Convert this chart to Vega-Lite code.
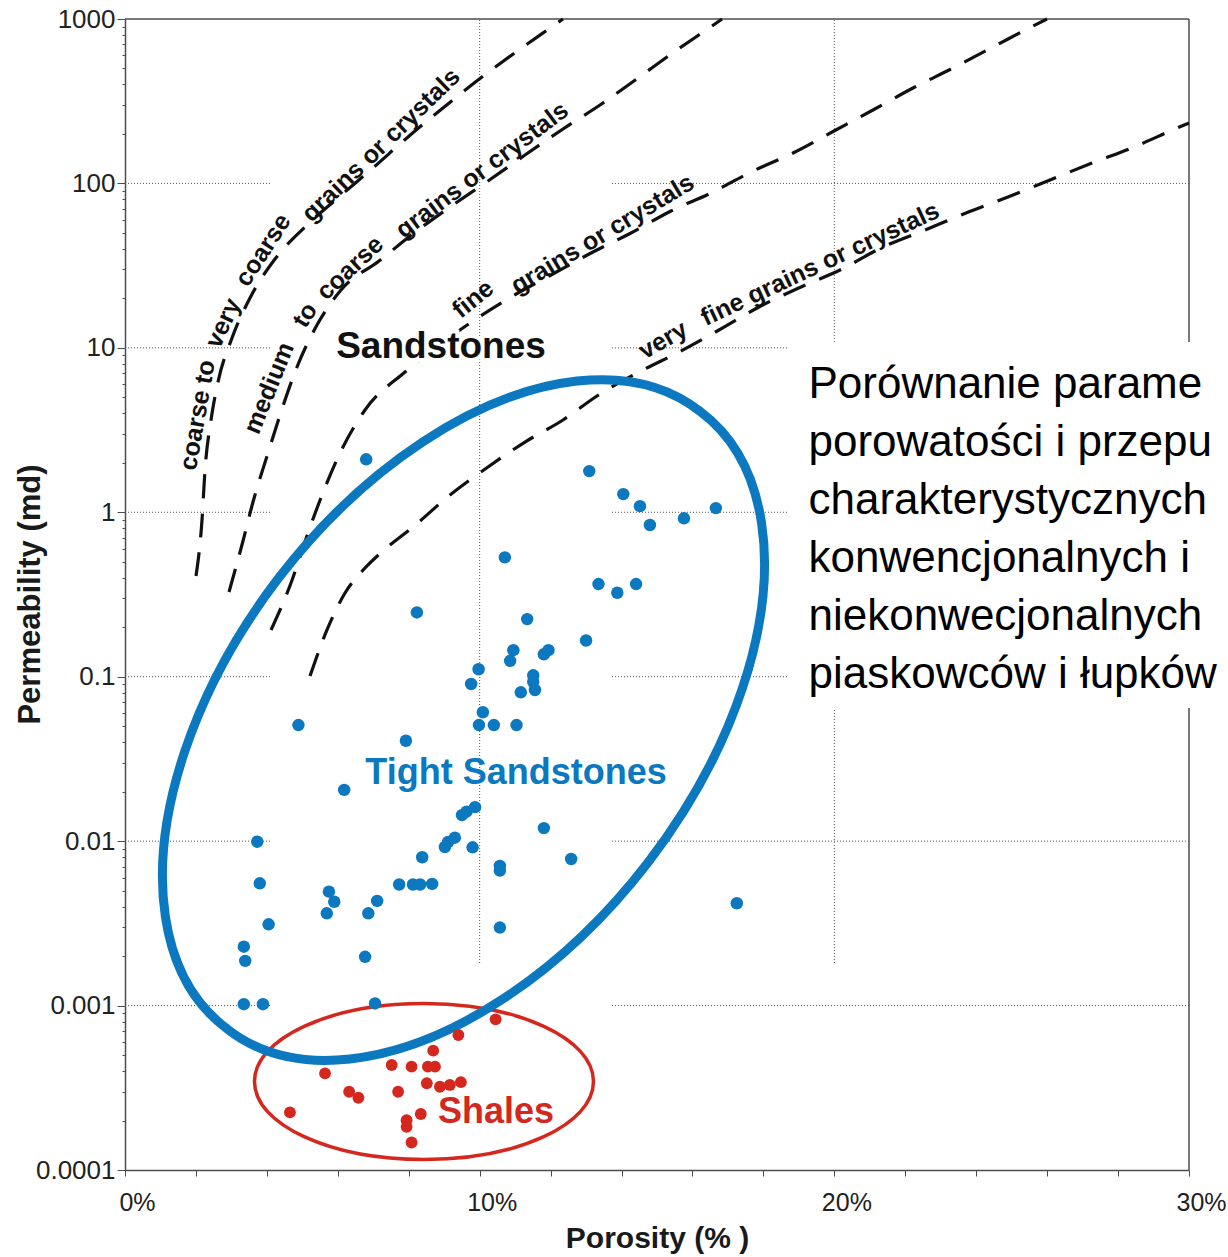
{
  "$schema": "https://vega.github.io/schema/vega-lite/v6.json",
  "width": 1064,
  "height": 1151,
  "autosize": {"type": "none"},
  "padding": {"left": 125, "top": 19, "right": 39, "bottom": 87},
  "background": "white",
  "config": {
    "view": {"stroke": null},
    "axis": {"grid": false, "domainColor": "#4d4d4d", "tickColor": "#4d4d4d", "labelColor": "#222222", "titleColor": "#1a1a1a", "labelFont": "Liberation Sans", "titleFont": "Liberation Sans", "domainWidth": 1.5, "tickWidth": 1},
    "text": {"font": "Liberation Sans"}
  },
  "datasets": {
    "grid": [
      {"por": 0, "por2": 4.088, "k": 100, "k2": 100},
      {"por": 13.731, "por2": 30, "k": 100, "k2": 100},
      {"por": 0, "por2": 4.088, "k": 10, "k2": 10},
      {"por": 13.731, "por2": 18.665, "k": 10, "k2": 10},
      {"por": 0, "por2": 4.088, "k": 1, "k2": 1},
      {"por": 13.731, "por2": 18.665, "k": 1, "k2": 1},
      {"por": 0, "por2": 4.088, "k": 0.1, "k2": 0.1},
      {"por": 13.731, "por2": 18.665, "k": 0.1, "k2": 0.1},
      {"por": 0, "por2": 4.088, "k": 0.01, "k2": 0.01},
      {"por": 13.731, "por2": 30, "k": 0.01, "k2": 0.01},
      {"por": 0, "por2": 4.088, "k": 0.001, "k2": 0.001},
      {"por": 13.731, "por2": 30, "k": 0.001, "k2": 0.001},
      {"por": 10, "por2": 10, "k": 0.001815, "k2": 1000},
      {"por": 20, "por2": 20, "k": 0.001815, "k2": 0.0645},
      {"por": 20, "por2": 20, "k": 10.85, "k2": 1000}
    ],
    "frame": [
      {"por": 0, "por2": 30, "k": 1000, "k2": 1000},
      {"por": 30, "por2": 30, "k": 0.0001, "k2": 0.0645},
      {"por": 30, "por2": 30, "k": 10.85, "k2": 1000}
    ],
    "curves": [
      {"curve": "c1", "por": 2.002, "k": 0.410}, {"curve": "c1", "por": 2.171, "k": 0.897}, {"curve": "c1", "por": 2.256, "k": 1.808}, {"curve": "c1", "por": 2.425, "k": 3.64}, {"curve": "c1", "por": 2.622, "k": 6.2}, {"curve": "c1", "por": 3.017, "k": 11.48}, {"curve": "c1", "por": 3.524, "k": 20.1}, {"curve": "c1", "por": 4.229, "k": 34.7}, {"curve": "c1", "por": 5.103, "k": 55.08}, {"curve": "c1", "por": 6.034, "k": 82.68}, {"curve": "c1", "por": 7.021, "k": 125.9}, {"curve": "c1", "por": 7.979, "k": 191.6}, {"curve": "c1", "por": 8.966, "k": 287.5}, {"curve": "c1", "por": 9.953, "k": 425.6}, {"curve": "c1", "por": 11.024, "k": 629.9}, {"curve": "c1", "por": 12.068, "k": 906.7}, {"curve": "c1", "por": 12.349, "k": 1000},
      {"curve": "c2", "por": 2.932, "k": 0.3275}, {"curve": "c2", "por": 3.327, "k": 0.669}, {"curve": "c2", "por": 3.609, "k": 1.155}, {"curve": "c2", "por": 4.032, "k": 2.293}, {"curve": "c2", "por": 4.398, "k": 4.073}, {"curve": "c2", "por": 4.85, "k": 7.646}, {"curve": "c2", "por": 5.413, "k": 13.77}, {"curve": "c2", "por": 6.09, "k": 22.48}, {"curve": "c2", "por": 7.162, "k": 33.74}, {"curve": "c2", "por": 8.148, "k": 49.94}, {"curve": "c2", "por": 9.163, "k": 71.87}, {"curve": "c2", "por": 10.235, "k": 103.4}, {"curve": "c2", "por": 11.278, "k": 148.9}, {"curve": "c2", "por": 12.349, "k": 214.3}, {"curve": "c2", "por": 13.393, "k": 299.8}, {"curve": "c2", "por": 14.464, "k": 437.8}, {"curve": "c2", "por": 15.479, "k": 629.9}, {"curve": "c2", "por": 16.551, "k": 906.7}, {"curve": "c2", "por": 16.833, "k": 1000},
      {"curve": "c3", "por": 4.117, "k": 0.1924}, {"curve": "c3", "por": 4.68, "k": 0.3715}, {"curve": "c3", "por": 5.16, "k": 0.7482}, {"curve": "c3", "por": 5.611, "k": 1.366}, {"curve": "c3", "por": 6.147, "k": 2.495}, {"curve": "c3", "por": 6.767, "k": 4.188}, {"curve": "c3", "por": 7.895, "k": 7.131}, {"curve": "c3", "por": 9.727, "k": 14.16}, {"curve": "c3", "por": 10.883, "k": 20.38}, {"curve": "c3", "por": 12.011, "k": 27.73}, {"curve": "c3", "por": 13.139, "k": 37.74}, {"curve": "c3", "por": 14.267, "k": 49.94}, {"curve": "c3", "por": 15.395, "k": 67.96}, {"curve": "c3", "por": 16.523, "k": 87.45}, {"curve": "c3", "por": 17.65, "k": 117.3}, {"curve": "c3", "por": 18.834, "k": 153.1}, {"curve": "c3", "por": 19.99, "k": 208.4}, {"curve": "c3", "por": 21.09, "k": 279.6}, {"curve": "c3", "por": 22.218, "k": 380.5}, {"curve": "c3", "por": 23.346, "k": 503.4}, {"curve": "c3", "por": 24.473, "k": 675.3}, {"curve": "c3", "por": 25.601, "k": 906.7}, {"curve": "c3", "por": 25.996, "k": 1000},
      {"curve": "c4", "por": 5.216, "k": 0.101}, {"curve": "c4", "por": 5.695, "k": 0.1924}, {"curve": "c4", "por": 6.203, "k": 0.3229}, {"curve": "c4", "por": 6.767, "k": 0.4583}, {"curve": "c4", "por": 7.303, "k": 0.5897}, {"curve": "c4", "por": 8.12, "k": 0.8138}, {"curve": "c4", "por": 9.163, "k": 1.274}, {"curve": "c4", "por": 10.235, "k": 1.886}, {"curve": "c4", "por": 11.278, "k": 2.675}, {"curve": "c4", "por": 12.349, "k": 3.64}, {"curve": "c4", "por": 13.308, "k": 5.096}, {"curve": "c4", "por": 14.605, "k": 7.334}, {"curve": "c4", "por": 15.62, "k": 9.436}, {"curve": "c4", "por": 16.748, "k": 12.84}, {"curve": "c4", "por": 17.876, "k": 17.72}, {"curve": "c4", "por": 19.06, "k": 23.45}, {"curve": "c4", "por": 20.16, "k": 29.75}, {"curve": "c4", "por": 21.372, "k": 41.05}, {"curve": "c4", "por": 22.556, "k": 52.08}, {"curve": "c4", "por": 23.712, "k": 66.08}, {"curve": "c4", "por": 24.896, "k": 82.68}, {"curve": "c4", "por": 26.081, "k": 104.9}, {"curve": "c4", "por": 27.265, "k": 133.1}, {"curve": "c4", "por": 28.449, "k": 166.5}, {"curve": "c4", "por": 29.661, "k": 217.3}, {"curve": "c4", "por": 30, "k": 233.1}
    ],
    "sand": [
      {"por": 6.80, "k": 2.10}, {"por": 4.89, "k": 0.0508}, {"por": 6.18, "k": 0.0205}, {"por": 3.73, "k": 0.00992}, {"por": 3.80, "k": 0.00554},
      {"por": 4.05, "k": 0.00312}, {"por": 3.35, "k": 0.00228}, {"por": 3.39, "k": 0.00187}, {"por": 3.35, "k": 0.00102}, {"por": 3.89, "k": 0.00102},
      {"por": 5.75, "k": 0.00493}, {"por": 5.90, "k": 0.00428}, {"por": 5.69, "k": 0.00364}, {"por": 6.86, "k": 0.00364}, {"por": 7.11, "k": 0.00433},
      {"por": 6.77, "k": 0.00198}, {"por": 7.05, "k": 0.00103}, {"por": 7.73, "k": 0.00545}, {"por": 8.12, "k": 0.00545}, {"por": 8.32, "k": 0.00545},
      {"por": 8.66, "k": 0.00549}, {"por": 8.38, "k": 0.00798}, {"por": 9.02, "k": 0.00921}, {"por": 9.11, "k": 0.00988}, {"por": 9.30, "k": 0.0105},
      {"por": 9.50, "k": 0.0144}, {"por": 9.63, "k": 0.0151}, {"por": 9.87, "k": 0.0161}, {"por": 9.80, "k": 0.00917}, {"por": 11.81, "k": 0.0120},
      {"por": 12.58, "k": 0.00779}, {"por": 10.57, "k": 0.00706}, {"por": 10.57, "k": 0.00663}, {"por": 10.57, "k": 0.00298}, {"por": 17.25, "k": 0.00419},
      {"por": 13.09, "k": 1.78}, {"por": 14.05, "k": 1.29}, {"por": 14.52, "k": 1.09}, {"por": 14.80, "k": 0.837}, {"por": 15.76, "k": 0.919},
      {"por": 16.66, "k": 1.06}, {"por": 10.71, "k": 0.532}, {"por": 13.35, "k": 0.366}, {"por": 13.88, "k": 0.324}, {"por": 14.41, "k": 0.366},
      {"por": 8.23, "k": 0.246}, {"por": 11.34, "k": 0.224}, {"por": 13.00, "k": 0.166}, {"por": 10.95, "k": 0.145}, {"por": 10.86, "k": 0.125},
      {"por": 11.81, "k": 0.137}, {"por": 11.94, "k": 0.145}, {"por": 9.97, "k": 0.111}, {"por": 9.76, "k": 0.0903}, {"por": 11.51, "k": 0.102},
      {"por": 11.51, "k": 0.0932}, {"por": 11.56, "k": 0.0830}, {"por": 11.16, "k": 0.0804}, {"por": 10.09, "k": 0.0608}, {"por": 9.98, "k": 0.0508},
      {"por": 10.40, "k": 0.0508}, {"por": 11.04, "k": 0.0508}, {"por": 7.92, "k": 0.0408}
    ],
    "shale": [
      {"por": 4.65, "k": 0.000224}, {"por": 5.64, "k": 0.000387}, {"por": 6.32, "k": 0.000299}, {"por": 6.58, "k": 0.000275}, {"por": 7.52, "k": 0.000435},
      {"por": 7.70, "k": 0.000299}, {"por": 8.08, "k": 0.000425}, {"por": 8.54, "k": 0.000425}, {"por": 8.74, "k": 0.000425}, {"por": 8.69, "k": 0.000532},
      {"por": 9.40, "k": 0.000662}, {"por": 10.45, "k": 0.000825}, {"por": 8.51, "k": 0.000337}, {"por": 8.88, "k": 0.000321}, {"por": 9.16, "k": 0.000329},
      {"por": 9.47, "k": 0.000342}, {"por": 7.94, "k": 0.000201}, {"por": 7.94, "k": 0.000183}, {"por": 8.34, "k": 0.000219}, {"por": 8.08, "k": 0.000147}
    ]
  },
  "resolve": {"axis": {"y": "independent"}},
  "layer": [
    {
      "data": {"name": "grid"},
      "mark": {"type": "rule", "color": "#555555", "strokeWidth": 1, "strokeDash": [1, 2]},
      "encoding": {
        "x": {"field": "por", "type": "quantitative", "scale": {"domain": [0, 30], "nice": false, "zero": false},
          "axis": {"values": [0,1,2,3,4,5,6,7,8,9,10,11,12,13,14,15,16,17,18,19,20,21,22,23,24,25,26,27,28,29,30], "labelExpr": "datum.value % 10 === 0 ? datum.value + '%' : ''", "tickSize": 6, "labelFontSize": 25, "labelPadding": 14, "labelOffset": 12, "labelFlush": false, "labelOverlap": false, "title": "Porosity (% )", "titleFontSize": 30, "titleFontWeight": "bold", "titleBaseline": "alphabetic", "titleY": 77.5}},
        "x2": {"field": "por2"},
        "y": {"field": "k", "type": "quantitative", "scale": {"type": "log", "domain": [0.0001, 1000], "nice": false},
          "axis": {"orient": "left", "values": [0.0001, 0.001, 0.01, 0.1, 1, 10, 100, 1000], "labelExpr": "datum.value >= 1 ? format(datum.value, 'd') : format(datum.value, '.4~f')", "tickSize": 8, "labelFontSize": 26, "labelPadding": 2, "labelFlush": false, "labelOverlap": false, "title": "Permeability (md)", "titleFontSize": 31, "titleFontWeight": "bold", "titleBaseline": "alphabetic", "titleAngle": 270, "titleX": -86, "titleY": 575}},
        "y2": {"field": "k2"}
      }
    },
    {
      "data": {"name": "frame"},
      "mark": {"type": "rule", "color": "#4d4d4d", "strokeWidth": 1.5},
      "encoding": {
        "x": {"field": "por", "type": "quantitative", "scale": {"domain": [0, 30], "nice": false, "zero": false}},
        "x2": {"field": "por2"},
        "y": {"field": "k", "type": "quantitative", "scale": {"type": "log", "domain": [0.0001, 1000], "nice": false},
          "axis": {"orient": "left", "values": [0.0002,0.0003,0.0004,0.0005,0.0006,0.0007,0.0008,0.0009,0.002,0.003,0.004,0.005,0.006,0.007,0.008,0.009,0.02,0.03,0.04,0.05,0.06,0.07,0.08,0.09,0.2,0.3,0.4,0.5,0.6,0.7,0.8,0.9,2,3,4,5,6,7,8,9,20,30,40,50,60,70,80,90,200,300,400,500,600,700,800,900], "tickSize": 3, "labels": false, "domain": false, "title": null}},
        "y2": {"field": "k2"}
      }
    },
    {
      "data": {"name": "curves"},
      "mark": {"type": "line", "color": "#111111", "strokeWidth": 3.2, "strokeDash": [24, 15], "interpolate": "monotone"},
      "encoding": {
        "x": {"field": "por", "type": "quantitative", "scale": {"domain": [0, 30], "nice": false, "zero": false}},
        "y": {"field": "k", "type": "quantitative", "scale": {"type": "log", "domain": [0.0001, 1000], "nice": false}, "axis": null},
        "detail": {"field": "curve", "type": "nominal"}
      }
    },
    {
      "data": {"values": [{"por": 8.43, "k": 0.0003453}]},
      "mark": {"type": "point", "shape": "M -169.5 0 A 169.5 78 0 1 1 169.5 0 A 169.5 78 0 1 1 -169.5 0 Z", "size": 4, "filled": false, "stroke": "#D4281F", "strokeWidth": 3.5, "opacity": 1},
      "encoding": {
        "x": {"field": "por", "type": "quantitative", "scale": {"domain": [0, 30], "nice": false, "zero": false}},
        "y": {"field": "k", "type": "quantitative", "scale": {"type": "log", "domain": [0.0001, 1000], "nice": false}, "axis": null}
      }
    },
    {
      "data": {"values": [{"por": 9.544, "k": 0.05453}]},
      "mark": {"type": "point", "shape": "M -236.9 308.4 A 388.9 231.1 -52.5 1 1 236.9 -308.4 A 388.9 231.1 -52.5 1 1 -236.9 308.4 Z", "size": 4, "filled": false, "stroke": "#0B78BF", "strokeWidth": 9, "opacity": 1},
      "encoding": {
        "x": {"field": "por", "type": "quantitative", "scale": {"domain": [0, 30], "nice": false, "zero": false}},
        "y": {"field": "k", "type": "quantitative", "scale": {"type": "log", "domain": [0.0001, 1000], "nice": false}, "axis": null}
      }
    },
    {
      "data": {"name": "shale"},
      "mark": {"type": "circle", "size": 140, "color": "#D4281F", "opacity": 1},
      "encoding": {
        "x": {"field": "por", "type": "quantitative", "scale": {"domain": [0, 30], "nice": false, "zero": false}},
        "y": {"field": "k", "type": "quantitative", "scale": {"type": "log", "domain": [0.0001, 1000], "nice": false}, "axis": null}
      }
    },
    {
      "data": {"name": "sand"},
      "mark": {"type": "circle", "size": 155, "color": "#0B78BF", "opacity": 1},
      "encoding": {
        "x": {"field": "por", "type": "quantitative", "scale": {"domain": [0, 30], "nice": false, "zero": false}},
        "y": {"field": "k", "type": "quantitative", "scale": {"type": "log", "domain": [0.0001, 1000], "nice": false}, "axis": null}
      }
    },
    {
      "data": {"values": [{"por": 8.91, "k": 10.12, "t": "Sandstones"}]},
      "mark": {"type": "text", "fontSize": 37, "fontWeight": "bold", "color": "white", "stroke": "white", "strokeWidth": 8, "align": "center", "baseline": "middle"},
      "encoding": {
        "x": {"field": "por", "type": "quantitative", "scale": {"domain": [0, 30], "nice": false, "zero": false}},
        "y": {"field": "k", "type": "quantitative", "scale": {"type": "log", "domain": [0.0001, 1000], "nice": false}, "axis": null},
        "text": {"field": "t"}
      }
    },
    {
      "data": {"values": [{"por": 8.91, "k": 10.12, "t": "Sandstones"}]},
      "mark": {"type": "text", "fontSize": 37, "fontWeight": "bold", "color": "#111111", "align": "center", "baseline": "middle"},
      "encoding": {
        "x": {"field": "por", "type": "quantitative", "scale": {"domain": [0, 30], "nice": false, "zero": false}},
        "y": {"field": "k", "type": "quantitative", "scale": {"type": "log", "domain": [0.0001, 1000], "nice": false}, "axis": null},
        "text": {"field": "t"}
      }
    },
    {
      "data": {"values": [{"por": 11.024, "k": 0.02611, "t": "Tight Sandstones"}]},
      "mark": {"type": "text", "fontSize": 36, "fontWeight": "bold", "color": "#0B78BF", "align": "center", "baseline": "middle"},
      "encoding": {
        "x": {"field": "por", "type": "quantitative", "scale": {"domain": [0, 30], "nice": false, "zero": false}},
        "y": {"field": "k", "type": "quantitative", "scale": {"type": "log", "domain": [0.0001, 1000], "nice": false}, "axis": null},
        "text": {"field": "t"}
      }
    },
    {
      "data": {"values": [{"por": 10.46, "k": 0.0002252, "t": "Shales"}]},
      "mark": {"type": "text", "fontSize": 36, "fontWeight": "bold", "color": "#D4281F", "align": "center", "baseline": "middle"},
      "encoding": {
        "x": {"field": "por", "type": "quantitative", "scale": {"domain": [0, 30], "nice": false, "zero": false}},
        "y": {"field": "k", "type": "quantitative", "scale": {"type": "log", "domain": [0.0001, 1000], "nice": false}, "axis": null},
        "text": {"field": "t"}
      }
    },
    {
      "data": {"values": [{"por": 19.27, "k": 8.09, "t": "Porównanie parame\nporowatości i przepu\ncharakterystycznych\nkonwencjonalnych i\nniekonwecjonalnych\npiaskowców i łupków"}]},
      "mark": {"type": "text", "fontSize": 44, "color": "#000000", "align": "left", "baseline": "top", "lineBreak": "\n", "lineHeight": 58},
      "encoding": {
        "x": {"field": "por", "type": "quantitative", "scale": {"domain": [0, 30], "nice": false, "zero": false}},
        "y": {"field": "k", "type": "quantitative", "scale": {"type": "log", "domain": [0.0001, 1000], "nice": false}, "axis": null},
        "text": {"field": "t"}
      }
    },
    {
      "data": {"values": [{"por": 2.044, "k": 3.905, "t": "coarse to"}]},
      "mark": {"type": "text", "angle": 280, "fontSize": 25, "fontWeight": "bold", "color": "#111111", "align": "center", "baseline": "middle"},
      "encoding": {
        "x": {"field": "por", "type": "quantitative", "scale": {"domain": [0, 30], "nice": false, "zero": false}},
        "y": {"field": "k", "type": "quantitative", "scale": {"type": "log", "domain": [0.0001, 1000], "nice": false}, "axis": null},
        "text": {"field": "t"}
      }
    },
    {
      "data": {"values": [{"por": 2.763, "k": 14.16, "t": "very"}]},
      "mark": {"type": "text", "angle": 295, "fontSize": 25, "fontWeight": "bold", "color": "#111111", "align": "center", "baseline": "middle"},
      "encoding": {
        "x": {"field": "por", "type": "quantitative", "scale": {"domain": [0, 30], "nice": false, "zero": false}},
        "y": {"field": "k", "type": "quantitative", "scale": {"type": "log", "domain": [0.0001, 1000], "nice": false}, "axis": null},
        "text": {"field": "t"}
      }
    },
    {
      "data": {"values": [{"por": 3.891, "k": 39.36, "t": "coarse"}]},
      "mark": {"type": "text", "angle": 303, "fontSize": 25, "fontWeight": "bold", "color": "#111111", "align": "center", "baseline": "middle"},
      "encoding": {
        "x": {"field": "por", "type": "quantitative", "scale": {"domain": [0, 30], "nice": false, "zero": false}},
        "y": {"field": "k", "type": "quantitative", "scale": {"type": "log", "domain": [0.0001, 1000], "nice": false}, "axis": null},
        "text": {"field": "t"}
      }
    },
    {
      "data": {"values": [{"por": 7.218, "k": 171.2, "t": "grains or crystals"}]},
      "mark": {"type": "text", "angle": 316, "fontSize": 25, "fontWeight": "bold", "color": "#111111", "align": "center", "baseline": "middle"},
      "encoding": {
        "x": {"field": "por", "type": "quantitative", "scale": {"domain": [0, 30], "nice": false, "zero": false}},
        "y": {"field": "k", "type": "quantitative", "scale": {"type": "log", "domain": [0.0001, 1000], "nice": false}, "axis": null},
        "text": {"field": "t"}
      }
    },
    {
      "data": {"values": [{"por": 4.06, "k": 5.698, "t": "medium"}]},
      "mark": {"type": "text", "angle": 292, "fontSize": 25, "fontWeight": "bold", "color": "#111111", "align": "center", "baseline": "middle"},
      "encoding": {
        "x": {"field": "por", "type": "quantitative", "scale": {"domain": [0, 30], "nice": false, "zero": false}},
        "y": {"field": "k", "type": "quantitative", "scale": {"type": "log", "domain": [0.0001, 1000], "nice": false}, "axis": null},
        "text": {"field": "t"}
      }
    },
    {
      "data": {"values": [{"por": 5.075, "k": 15.84, "t": "to"}]},
      "mark": {"type": "text", "angle": 302, "fontSize": 25, "fontWeight": "bold", "color": "#111111", "align": "center", "baseline": "middle"},
      "encoding": {
        "x": {"field": "por", "type": "quantitative", "scale": {"domain": [0, 30], "nice": false, "zero": false}},
        "y": {"field": "k", "type": "quantitative", "scale": {"type": "log", "domain": [0.0001, 1000], "nice": false}, "axis": null},
        "text": {"field": "t"}
      }
    },
    {
      "data": {"values": [{"por": 6.344, "k": 30.59, "t": "coarse"}]},
      "mark": {"type": "text", "angle": 317, "fontSize": 25, "fontWeight": "bold", "color": "#111111", "align": "center", "baseline": "middle"},
      "encoding": {
        "x": {"field": "por", "type": "quantitative", "scale": {"domain": [0, 30], "nice": false, "zero": false}},
        "y": {"field": "k", "type": "quantitative", "scale": {"type": "log", "domain": [0.0001, 1000], "nice": false}, "axis": null},
        "text": {"field": "t"}
      }
    },
    {
      "data": {"values": [{"por": 10.066, "k": 120.6, "t": "grains or crystals"}]},
      "mark": {"type": "text", "angle": 323, "fontSize": 25, "fontWeight": "bold", "color": "#111111", "align": "center", "baseline": "middle"},
      "encoding": {
        "x": {"field": "por", "type": "quantitative", "scale": {"domain": [0, 30], "nice": false, "zero": false}},
        "y": {"field": "k", "type": "quantitative", "scale": {"type": "log", "domain": [0.0001, 1000], "nice": false}, "axis": null},
        "text": {"field": "t"}
      }
    },
    {
      "data": {"values": [{"por": 9.812, "k": 19.83, "t": "fine"}]},
      "mark": {"type": "text", "angle": 321, "fontSize": 25, "fontWeight": "bold", "color": "#111111", "align": "center", "baseline": "middle"},
      "encoding": {
        "x": {"field": "por", "type": "quantitative", "scale": {"domain": [0, 30], "nice": false, "zero": false}},
        "y": {"field": "k", "type": "quantitative", "scale": {"type": "log", "domain": [0.0001, 1000], "nice": false}, "axis": null},
        "text": {"field": "t"}
      }
    },
    {
      "data": {"values": [{"por": 13.463, "k": 49.25, "t": "grains or crystals"}]},
      "mark": {"type": "text", "angle": 329, "fontSize": 25, "fontWeight": "bold", "color": "#111111", "align": "center", "baseline": "middle"},
      "encoding": {
        "x": {"field": "por", "type": "quantitative", "scale": {"domain": [0, 30], "nice": false, "zero": false}},
        "y": {"field": "k", "type": "quantitative", "scale": {"type": "log", "domain": [0.0001, 1000], "nice": false}, "axis": null},
        "text": {"field": "t"}
      }
    },
    {
      "data": {"values": [{"por": 15.169, "k": 11.16, "t": "very"}]},
      "mark": {"type": "text", "angle": 330, "fontSize": 25, "fontWeight": "bold", "color": "#111111", "align": "center", "baseline": "middle"},
      "encoding": {
        "x": {"field": "por", "type": "quantitative", "scale": {"domain": [0, 30], "nice": false, "zero": false}},
        "y": {"field": "k", "type": "quantitative", "scale": {"type": "log", "domain": [0.0001, 1000], "nice": false}, "axis": null},
        "text": {"field": "t"}
      }
    },
    {
      "data": {"values": [{"por": 19.596, "k": 32.35, "t": "fine grains or crystals"}]},
      "mark": {"type": "text", "angle": 335, "fontSize": 25, "fontWeight": "bold", "color": "#111111", "align": "center", "baseline": "middle"},
      "encoding": {
        "x": {"field": "por", "type": "quantitative", "scale": {"domain": [0, 30], "nice": false, "zero": false}},
        "y": {"field": "k", "type": "quantitative", "scale": {"type": "log", "domain": [0.0001, 1000], "nice": false}, "axis": null},
        "text": {"field": "t"}
      }
    }
  ]
}
